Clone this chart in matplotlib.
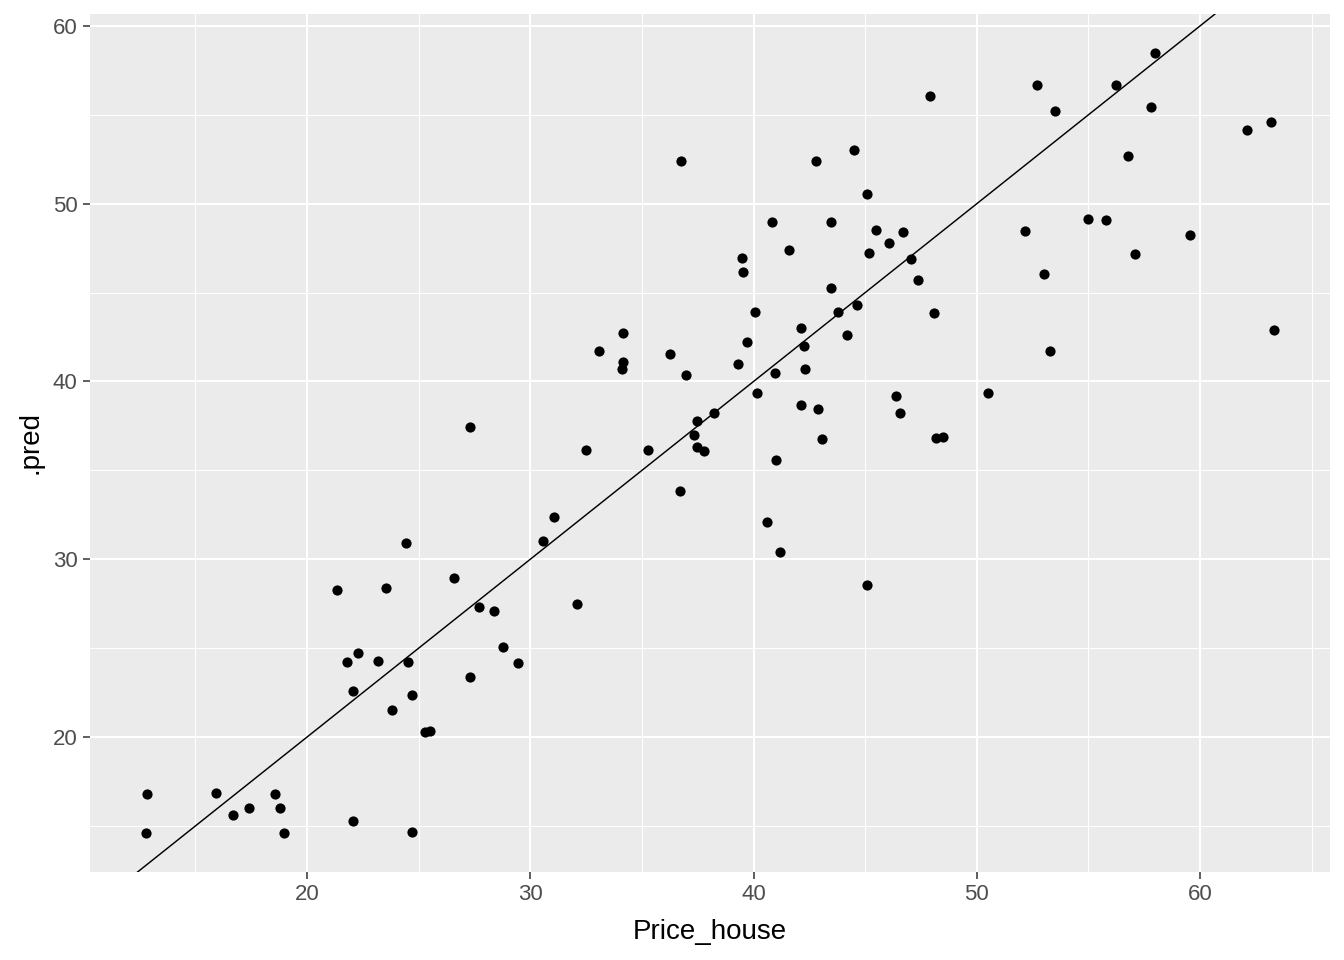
import matplotlib
matplotlib.use("Agg")
import matplotlib.pyplot as plt
import numpy as np

price_house = [12.84, 12.8, 15.9, 16.7, 17.4, 18.57, 18.8, 18.97, 22.06, 21.34,
               21.8, 22.3, 22.06, 23.18, 23.54, 23.8, 24.43, 24.52, 24.7, 24.7,
               25.28, 25.5, 26.58, 27.3, 27.3, 27.7, 28.37, 28.78, 29.45, 30.57,
               31.06, 32.1, 32.5, 33.08, 34.15, 34.15, 34.1, 35.27, 36.26, 36.75,
               36.7, 36.97, 37.33, 37.46, 37.46, 37.78, 38.23, 39.3, 39.48, 39.52,
               39.7, 40.06, 40.15, 40.6, 40.82, 40.96, 41.0, 41.18, 41.58, 42.12,
               42.12, 42.26, 42.3, 42.8, 42.88, 43.06, 43.47, 43.47, 43.78, 44.18,
               44.5, 44.63, 45.08, 45.08, 45.17, 45.5, 46.06, 46.38, 46.56, 46.7,
               47.05, 47.36, 47.9, 48.08, 48.17, 48.48, 50.5, 52.15, 52.7, 53.0,
               53.28, 53.5, 55.0, 55.8, 56.25, 56.77, 57.08, 57.8, 57.97, 59.54,
               62.1, 63.17, 63.3]
pred = [16.8, 14.6, 16.85, 15.6, 16.0, 16.8, 16.0, 14.6, 15.3, 28.25,
        24.2, 24.7, 22.6, 24.27, 28.4, 21.5, 30.9, 24.2, 22.36, 14.66,
        20.28, 20.34, 28.93, 37.42, 23.37, 27.3, 27.08, 25.06, 24.16, 31.0,
        32.36, 27.47, 36.12, 41.69, 42.75, 41.07, 40.73, 36.12, 41.52, 52.42,
        33.82, 40.39, 37.0, 37.8, 36.3, 36.07, 38.2, 40.96, 46.97, 46.18,
        42.25, 43.93, 39.38, 32.08, 48.99, 40.5, 35.6, 30.4, 47.4, 43.03,
        38.7, 41.97, 40.73, 52.42, 38.43, 36.74, 45.28, 48.99, 43.93, 42.64,
        53.03, 44.33, 50.56, 28.54, 47.25, 48.54, 47.8, 39.21, 38.2, 48.43,
        46.9, 45.73, 56.07, 43.88, 36.8, 36.9, 39.33, 48.48, 56.69, 46.07,
        41.69, 55.22, 49.16, 49.1, 56.69, 52.7, 47.19, 55.45, 58.48, 48.26,
        54.16, 54.6, 42.92]

x_ticks = [20, 30, 40, 50, 60]
y_ticks = [20, 30, 40, 50, 60]

plt.rcParams['font.family'] = ['Liberation Sans', 'DejaVu Sans']

fig = plt.figure(figsize=(13.44, 9.6), dpi=100)
ax = fig.add_axes([90/1344, 1 - 872/960, (1330-90)/1344, (872-14)/960])
ax.set_facecolor('#EBEBEB')

xmin, xmax = min(price_house), max(price_house)
ymin, ymax = min(pred), max(pred)
xr, yr = xmax - xmin, ymax - ymin
ax.set_xlim(xmin - 0.05*xr, xmax + 0.05*xr)
ax.set_ylim(ymin - 0.05*yr, ymax + 0.05*yr)

ax.set_xticks(x_ticks)
ax.set_yticks(y_ticks)
ax.set_xticks([15, 25, 35, 45, 55, 65], minor=True)
ax.set_yticks([15, 25, 35, 45, 55], minor=True)
ax.grid(which='major', color='white', linewidth=1.5)
ax.grid(which='minor', color='white', linewidth=0.75)
ax.set_axisbelow(True)
for s in ax.spines.values():
    s.set_visible(False)
ax.tick_params(which='major', length=5, width=1.1, color='#333333',
               labelsize=16, labelcolor='#4D4D4D', pad=4)
ax.tick_params(which='minor', length=0)

ax.scatter(price_house, pred, s=54, color='black', linewidths=0, zorder=3)
ax.axline((0, 0), slope=1, color='black', linewidth=1.05, zorder=2)

ax.set_xlabel('Price_house', fontsize=20, color='black', labelpad=10)
ax.set_ylabel('.pred', fontsize=20, color='black', labelpad=7)

fig.savefig('out.png', dpi=100)
